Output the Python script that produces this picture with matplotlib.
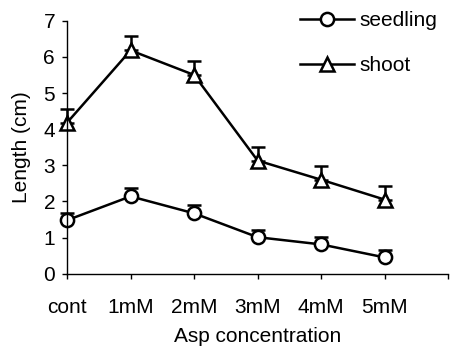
import numpy as np
import matplotlib.pyplot as plt

plt.rcParams['font.family'] = ['Liberation Sans', 'DejaVu Sans']

concentrations = ["cont", "1mM", "2mM", "3mM", "4mM", "5mM"]
seedling = [1.48, 2.14, 1.67, 1.01, 0.81, 0.45]
seedling_err = [0.21, 0.22, 0.22, 0.21, 0.2, 0.2]
shoot = [4.18, 6.18, 5.5, 3.13, 2.6, 2.05]
shoot_err = [0.38, 0.4, 0.4, 0.38, 0.38, 0.39]


def main():
    fig = plt.figure(figsize=(4.5, 3.46), dpi=100)
    ax = fig.add_axes([0.149, 0.209, 0.847, 0.731])
    x = np.arange(len(concentrations))

    style = dict(color='black', linewidth=1.8, markersize=9.5, markerfacecolor='white',
                 markeredgewidth=1.8, capsize=4.7, capthick=1.8, elinewidth=1.8)
    for y, err, mk, lab in [(seedling, seedling_err, 'o', 'seedling'),
                            (shoot, shoot_err, '^', 'shoot')]:
        lines = ax.errorbar(x, y, yerr=[np.zeros(len(x)), err], marker=mk,
                            label=lab, **style)
        for artist in lines.get_children():
            artist.set_clip_on(False)

    ax.set_xlim(0, len(concentrations))
    ax.set_ylim(0, 7)
    ax.set_xticks(np.arange(len(concentrations) + 1))
    ax.set_xticklabels(concentrations + [""])
    ax.set_yticks(range(8))
    for side in ('top', 'right'):
        ax.spines[side].set_visible(False)
    ax.spines['left'].set_linewidth(1.0)
    ax.spines['bottom'].set_linewidth(1.0)
    ax.tick_params(direction='out', length=3.6, width=1.0, labelsize=15)
    ax.tick_params(axis='x', pad=14)
    ax.tick_params(axis='y', pad=5)

    ax.set_xlabel('Asp concentration', fontsize=15, labelpad=7)
    ax.set_ylabel('Length (cm)', fontsize=15, labelpad=9)

    handles, labels = ax.get_legend_handles_labels()
    handles = [h[0] for h in handles]
    ax.legend(handles, labels, loc='upper left', bbox_to_anchor=(0.625, 1.022),
              bbox_transform=fig.transFigure, frameon=False, fontsize=15,
              handlelength=2.6, handletextpad=0.25, labelspacing=1.25)

    fig.savefig('out.png', dpi=100)
    plt.close(fig)


if __name__ == '__main__':
    main()
